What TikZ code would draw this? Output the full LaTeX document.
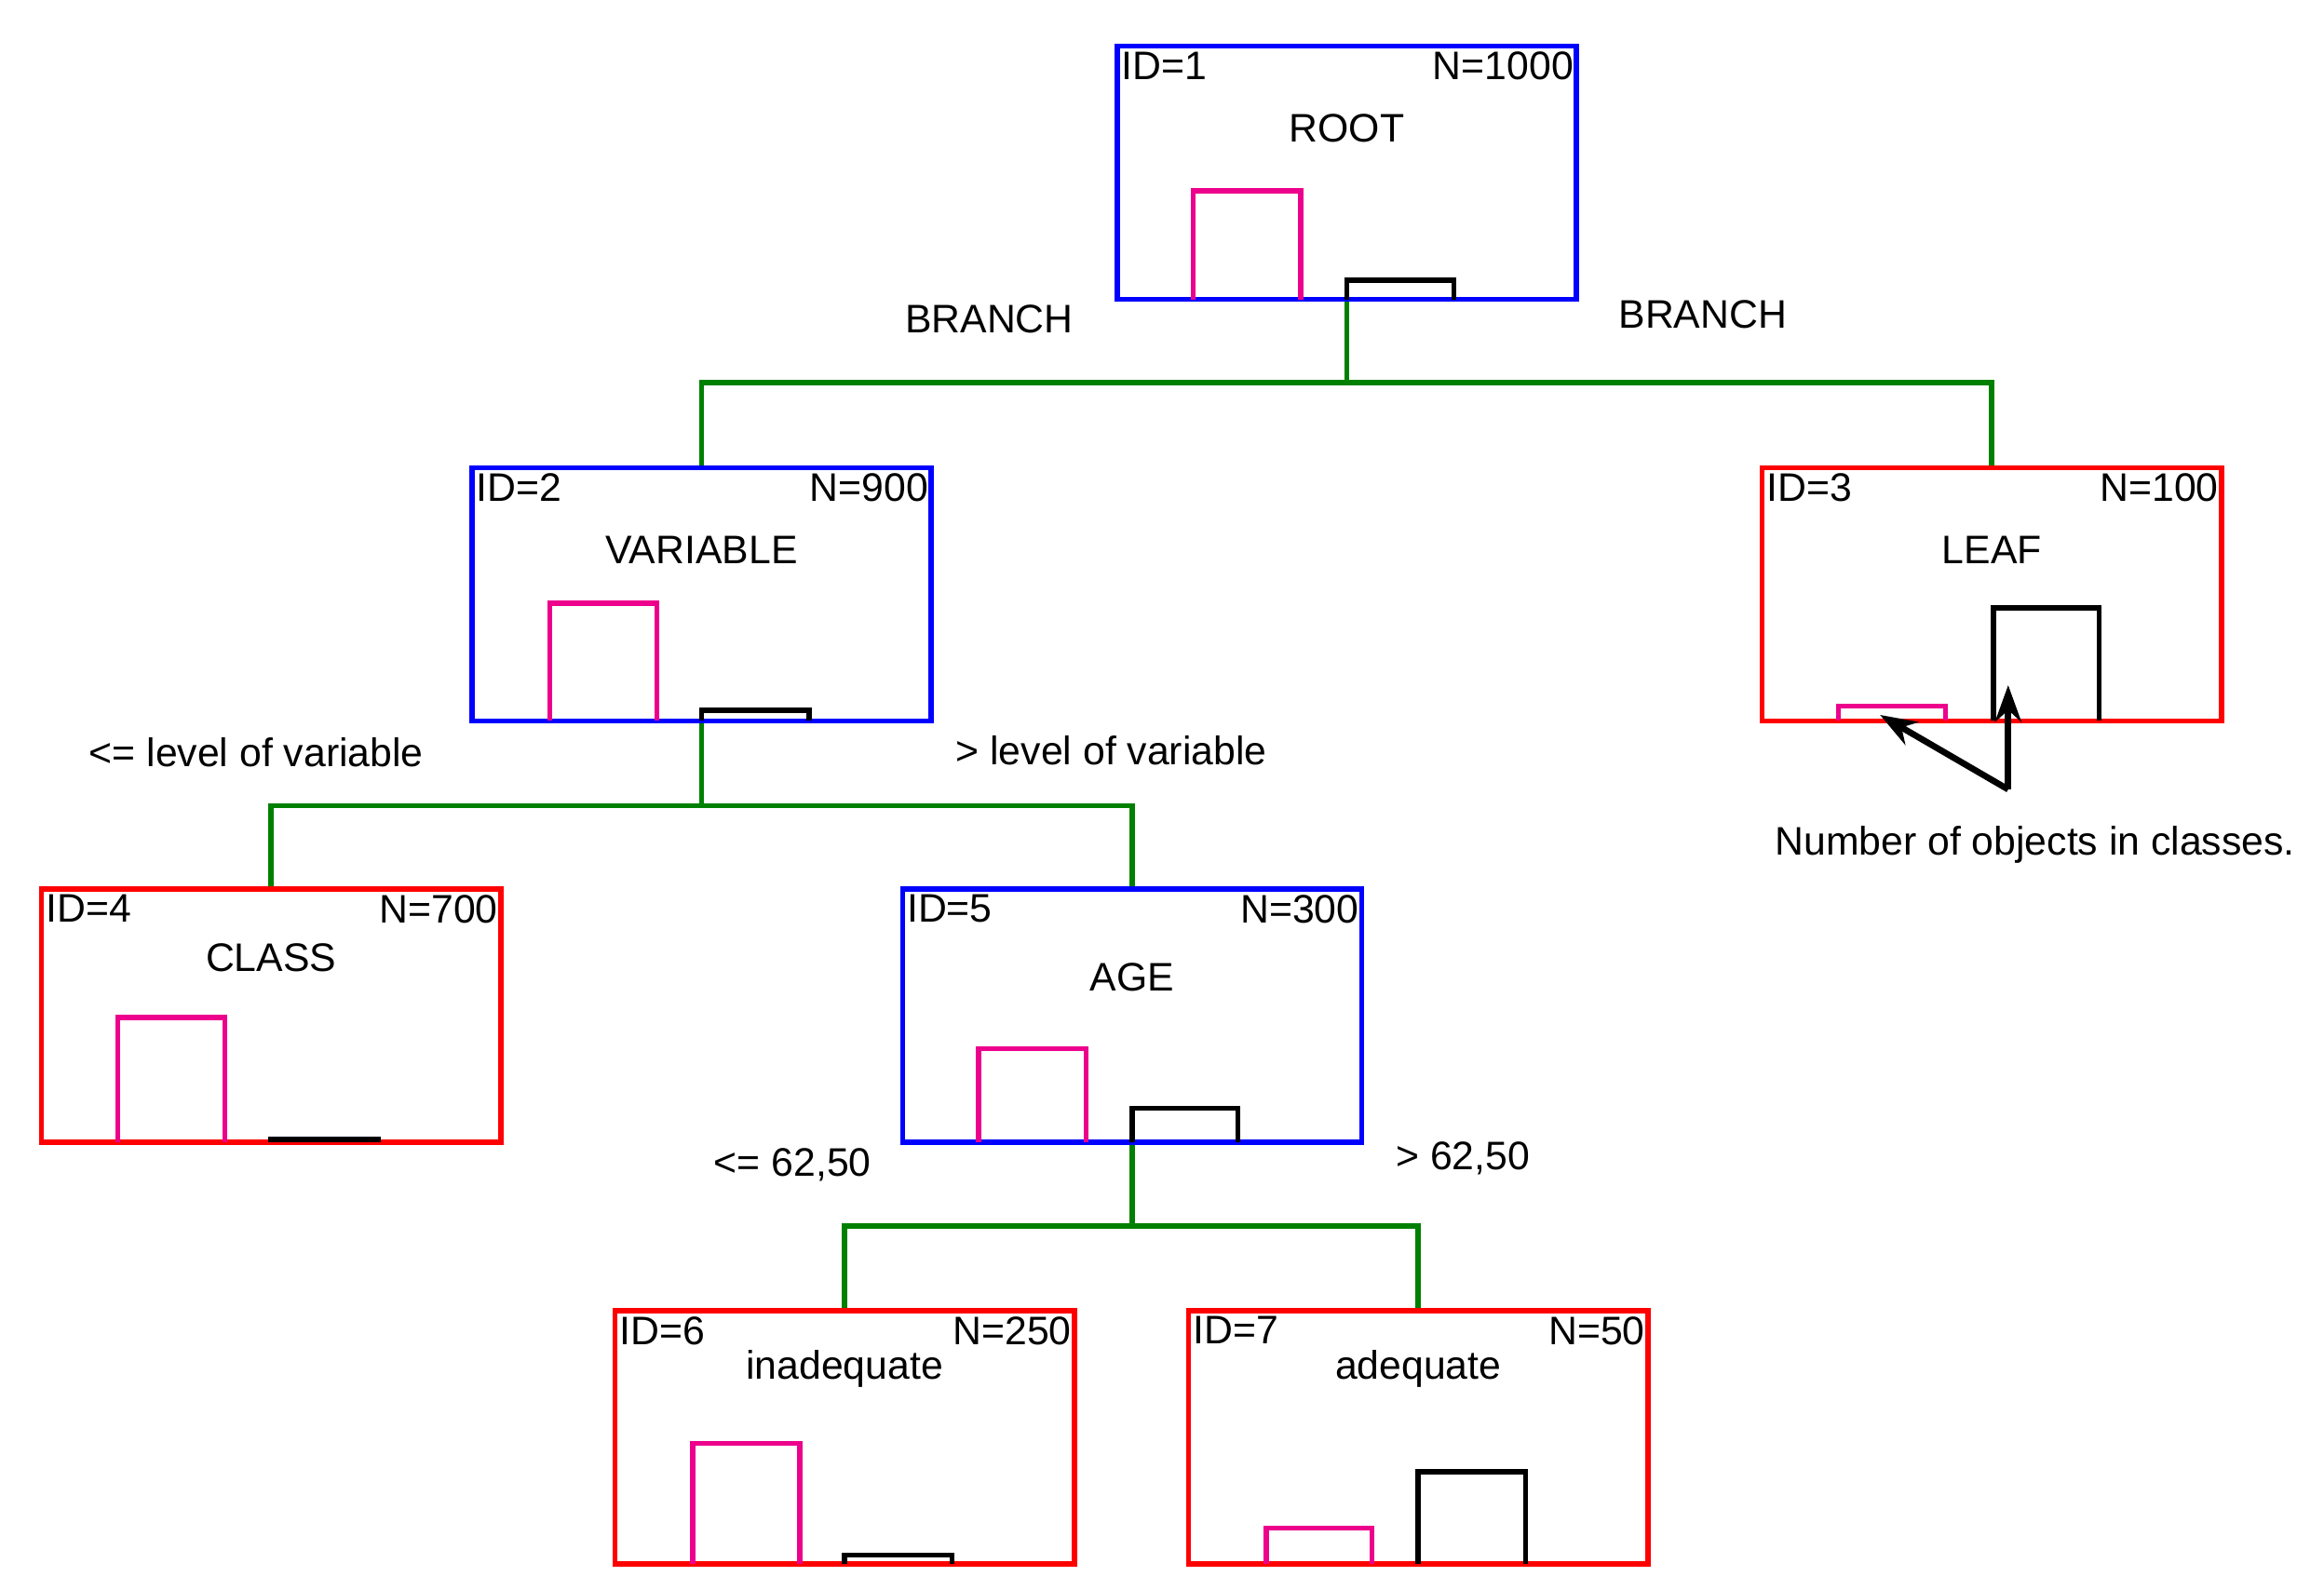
\documentclass[tikz,border=0pt]{standalone}
\usepackage{fontspec}
\setmainfont{Liberation Sans}
\usetikzlibrary{arrows.meta}
\begin{document}
\begin{tikzpicture}[x=0.01cm,y=-0.01cm,
  box/.style={draw=#1,line width=1pt,minimum width=3.08cm,minimum height=1.70cm,inner sep=0pt},
  lab/.style={font=\fontsize{7.6}{9}\selectfont,inner sep=0pt},
  mag/.style={draw=magenta,line width=1pt},
  blk/.style={draw=black,line width=1pt},
  con/.style={draw=green!50!black,line width=1pt},
  arr/.style={draw=black,line width=1.2pt,-{Stealth[length=7pt,width=5pt]}}]
\useasboundingbox (0,0) rectangle (1560,1067);
% boxes
\node[box=blue] (n1) at (904,116) {};
\node[box=blue] (n2) at (471,399) {};
\node[box=red] (n3) at (1337,399) {};
\node[box=red] (n4) at (182,682) {};
\node[box=blue] (n5) at (760,682) {};
\node[box=red] (n6) at (567,965) {};
\node[box=red] (n7) at (952,965) {};
% texts
\foreach \n/\i/\N in {n1/1/1000,n2/2/900,n3/3/100,n4/4/700,n5/5/300,n6/6/250,n7/7/50}{
  \node[lab,anchor=north west] at ([xshift=0.04cm,yshift=-0.05cm]\n.north west) {ID=\i};
  \node[lab,anchor=north east] at ([xshift=-0.03cm,yshift=-0.05cm]\n.north east) {N=\N};
}
\node[lab] (t1) at (904,86) {ROOT};
\node[lab] (t2) at (471,369) {VARIABLE};
\node[lab] (t3) at (1337,369) {LEAF};
\node[lab] (t4) at (182,643) {CLASS};
\node[lab] (t5) at (760,656) {AGE};
\node[lab] (t6) at (567,919) {inadequate};
\node[lab] (t7) at (952,919) {adequate};
% bars
\draw[mag] (801,201)--(801,128)--(873,128)--(873,201);
\draw[blk] (904,201)--(904,188)--(976,188)--(976,201);
\draw[mag] (369,484)--(369,405)--(441,405)--(441,484);
\draw[blk] (471,484)--(471,477)--(543,477)--(543,484);
\draw[mag] (1234,484)--(1234,474)--(1306,474)--(1306,484);
\draw[blk] (1338,484)--(1338,408)--(1409,408)--(1409,484);
\draw[mag] (79,767)--(79,683)--(151,683)--(151,767);
\draw[blk] (182,767)--(182,765)--(254,765)--(254,767);
\draw[mag] (657,767)--(657,704)--(729,704)--(729,767);
\draw[blk] (760,767)--(760,744)--(831,744)--(831,767);
\draw[mag] (465,1050)--(465,969)--(537,969)--(537,1050);
\draw[blk] (567,1050)--(567,1044)--(639,1044)--(639,1050);
\draw[mag] (850,1050)--(850,1026)--(921,1026)--(921,1050);
\draw[blk] (952,1050)--(952,988)--(1024,988)--(1024,1050);
% connectors
\coordinate (j1) at (904,257);
\coordinate (j2) at (471,541);
\coordinate (j5) at (760,823);
\draw[con] (n1.south) -- (j1);
\draw[con] (j1) -| (n2.north);
\draw[con] (j1) -| (n3.north);
\draw[con] (n2.south) -- (j2);
\draw[con] (j2) -| (n4.north);
\draw[con] (j2) -| (n5.north);
\draw[con] (n5.south) -- (j5);
\draw[con] (j5) -| (n6.north);
\draw[con] (j5) -| (n7.north);
% labels
\node[lab] (b1) at (664,214) {BRANCH};
\node[lab] (b2) at (1143,211) {BRANCH};
\node[lab] (l1) at (172,505) {<= level of variable};
\node[lab] (l2) at (746,504) {> level of variable};
\node[lab] (l3) at (532,782) {<= 62,50};
\node[lab] (l4) at (982,778) {> 62,50};
\node[lab] (nc) at (1366,567) {Number of objects in classes.};
\coordinate (ap) at (1348,530);
\coordinate (am) at (1262,480);
\coordinate (ab) at (1348,460);
\draw[arr] (ap) -- (am);
\draw[arr] (ap) -- (ab);
\end{tikzpicture}
\end{document}
